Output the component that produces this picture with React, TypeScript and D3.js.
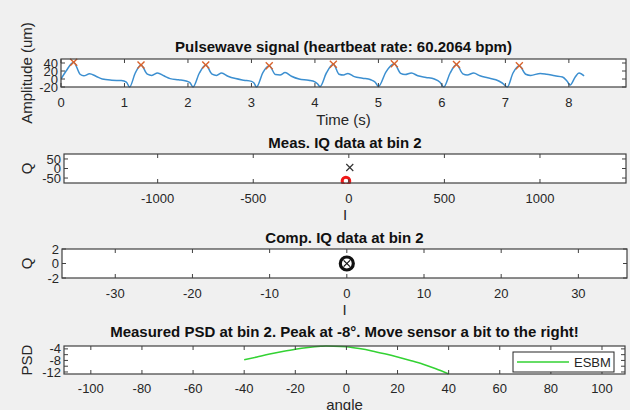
import React from "react";
import * as d3 from "d3";

// ---------- Data ----------
const pulseTime = [
  0, 0.08, 0.2, 0.3, 0.36, 0.45, 0.55, 0.65, 0.8, 0.95, 1.03, 1.08,
  1.17, 1.26, 1.36, 1.43, 1.52, 1.62, 1.72, 1.85, 1.97, 2.03, 2.08,
  2.18, 2.28, 2.38, 2.45, 2.53, 2.63, 2.75, 2.88, 3.0, 3.04, 3.08,
  3.18, 3.28, 3.38, 3.45, 3.53, 3.63, 3.75, 3.9, 4.0, 4.04, 4.08,
  4.18, 4.29, 4.38, 4.45, 4.52, 4.62, 4.75, 4.88, 4.95, 5.0,
  5.12, 5.25, 5.35, 5.42, 5.52, 5.62, 5.75, 5.88, 5.97, 6.03,
  6.13, 6.23, 6.33, 6.4, 6.5, 6.6, 6.72, 6.85, 6.95, 7.03,
  7.12, 7.22, 7.32, 7.4, 7.55, 7.65, 7.78, 7.9, 7.97, 8.02, 8.1, 8.16, 8.24,
];
const pulseAmp = [
  0, 20, 42, 12, 8, 13, 7, 0, -3, -4, -8, -20,
  15, 35, 12, 9, 15, 8, 1, -2, -5, -9, -20,
  15, 35, 12, 9, 15, 7, 1, -3, -6, -10, -20,
  16, 33, 11, 10, 16, 7, 0, -3, -7, -12, -19,
  15, 37, 12, 10, 14, 6, 2, -2, -8, -19,
  18, 38, 14, 11, 15, 8, 4, 0, -8, -20,
  15, 36, 13, 10, 15, 8, 3, -2, -10, -20,
  15, 33, 12, 9, 14, 12, 8, 5, -5, -15, 5, 15, 8,
];
const peakTime = [0.2, 1.26, 2.28, 3.28, 4.29, 5.25, 6.23, 7.22];
const peakAmp = [42, 35, 35, 33, 37, 38, 36, 33];

const measI = [5];
const measQ = [5];
const measRefI = [-15];
const measRefQ = [-66];

const compI = [0];
const compQ = [0];

const psdAngle = [-40, -35, -30, -25, -20, -15, -10, -8, -5, 0, 5, 10, 15, 20, 25, 30, 35, 40];
const psdValue = [-7.8, -6.8, -5.8, -4.9, -4.1, -3.5, -3.1, -3.0, -3.05, -3.3, -3.9, -4.7, -5.7, -6.8, -8.0, -9.3, -10.9, -12.7];

const pulseXTicks = [0, 1, 2, 3, 4, 5, 6, 7, 8];
const pulseYTicks = [-20, 0, 20, 40];
const measXTicks = [-1000, -500, 0, 500, 1000];
const measYTicks = [-50, 0, 50];
const compXTicks = [-30, -20, -10, 0, 10, 20, 30];
const compYTicks = [-2, 0, 2];
const psdXTicks = [-100, -80, -60, -40, -20, 0, 20, 40, 60, 80, 100];
const psdYTicks = [-12, -10, -8, -6, -4];
const psdYLabels = [-12, -8, -4];

const FONT = "'Liberation Sans', Arial, Helvetica, sans-serif";
const AX = "#404040";
const TXT = "#262626";

type AxesProps = {
  x: d3.ScaleLinear<number, number>;
  y: d3.ScaleLinear<number, number>;
  xTicks: number[];
  yTicks: number[];
  yLabels?: number[];
  title: string;
  titleY: number;
  xLabel?: string;
  xLabelY?: number;
  yLabel: string;
  yLabelX: number;
  tickLabelY: number;
  children?: React.ReactNode;
};

function Axes(p: AxesProps) {
  const [x0, x1] = p.x.range();
  const [yb, yt] = p.y.range();
  const tl = 4;
  const cx = (x0 + x1) / 2;
  const cy = (yb + yt) / 2;
  const labels = p.yLabels ?? p.yTicks;
  const id = "clip" + Math.round(x0) + "_" + Math.round(yt);
  return (
    <g>
      <rect x={x0} y={yt} width={x1 - x0} height={yb - yt} fill="#ffffff" />
      <defs>
        <clipPath id={id}>
          <rect x={x0} y={yt - 1} width={x1 - x0} height={yb - yt + 2} />
        </clipPath>
      </defs>
      <g clipPath={`url(#${id})`}>{p.children}</g>
      {p.xTicks.map((t) => (
        <g key={"xt" + t}>
          <line x1={p.x(t)} x2={p.x(t)} y1={yb} y2={yb - tl} stroke={AX} strokeWidth={1} />
          <line x1={p.x(t)} x2={p.x(t)} y1={yt} y2={yt + tl} stroke={AX} strokeWidth={1} />
          <text x={p.x(t)} y={p.tickLabelY} textAnchor="middle" fontSize={13} fill={TXT} fontFamily={FONT}>
            {t}
          </text>
        </g>
      ))}
      {p.yTicks.map((t) => (
        <g key={"yt" + t}>
          <line x1={x0} x2={x0 + tl} y1={p.y(t)} y2={p.y(t)} stroke={AX} strokeWidth={1} />
          <line x1={x1} x2={x1 - tl} y1={p.y(t)} y2={p.y(t)} stroke={AX} strokeWidth={1} />
        </g>
      ))}
      {labels.map((t) => (
        <text key={"yl" + t} x={x0 - 3} y={p.y(t)} dy="0.35em" textAnchor="end" fontSize={13} fill={TXT} fontFamily={FONT}>
          {t}
        </text>
      ))}
      <rect x={x0} y={yt} width={x1 - x0} height={yb - yt} fill="none" stroke={AX} strokeWidth={1.2} />
      <text x={cx} y={p.titleY} textAnchor="middle" fontSize={15} fontWeight="bold" fill="#111" fontFamily={FONT}>
        {p.title}
      </text>
      {p.xLabel && (
        <text x={cx} y={p.xLabelY} textAnchor="middle" fontSize={15} fill={TXT} fontFamily={FONT}>
          {p.xLabel}
        </text>
      )}
      <text
        transform={`translate(${p.yLabelX},${cy}) rotate(-90)`}
        textAnchor="middle"
        fontSize={15}
        fill={TXT}
        fontFamily={FONT}
      >
        {p.yLabel}
      </text>
    </g>
  );
}

function XMark({ cx, cy, r, color, w }: { cx: number; cy: number; r: number; color: string; w: number }) {
  return (
    <g stroke={color} strokeWidth={w}>
      <line x1={cx - r} y1={cy - r} x2={cx + r} y2={cy + r} />
      <line x1={cx - r} y1={cy + r} x2={cx + r} y2={cy - r} />
    </g>
  );
}

export default function App() {
  // Panel 1
  const x1 = d3.scaleLinear().domain([0, 8.9]).range([61, 626]);
  const y1 = d3.scaleLinear().domain([-20, 50]).range([87, 59]);
  const pulseLine = d3
    .line<number>()
    .x((_, i) => x1(pulseTime[i]))
    .y((d) => y1(d))
    .curve(d3.curveMonotoneX);

  // Panel 2
  const x2 = d3.scaleLinear().domain([-1490, 1450]).range([64, 626]);
  const y2 = d3.scaleLinear().domain([-76, 76]).range([183, 154]);

  // Panel 3
  const x3 = d3.scaleLinear().domain([-36.9, 36.3]).range([62, 627]);
  const y3 = d3.scaleLinear().domain([-2, 2]).range([278, 249]);

  // Panel 4
  const x4 = d3.scaleLinear().domain([-110.5, 109]).range([64, 625]);
  const y4 = d3.scaleLinear().domain([-12.7, -3]).range([374, 346]);
  const psdLine = d3
    .line<number>()
    .x((_, i) => x4(psdAngle[i]))
    .y((d) => y4(d))
    .curve(d3.curveMonotoneX);

  return (
    <svg
      width={630}
      height={410}
      style={{ position: "absolute", left: 0, top: 0, display: "block" }}
    >
      <rect width={630} height={410} fill="#f0f0f0" />

      <Axes
        x={x1}
        y={y1}
        xTicks={pulseXTicks}
        yTicks={pulseYTicks}
        title="Pulsewave signal (heartbeat rate: 60.2064 bpm)"
        titleY={52}
        xLabel="Time (s)"
        xLabelY={125}
        yLabel="Amplitude (um)"
        yLabelX={32}
        tickLabelY={107}
      >
        <path d={pulseLine(pulseAmp) ?? ""} fill="none" stroke="#3c8fd0" strokeWidth={1.5} />
        {peakTime.map((t, i) => (
          <XMark key={i} cx={x1(t)} cy={y1(peakAmp[i])} r={3.5} color="#d9622b" w={1.4} />
        ))}
      </Axes>

      <Axes
        x={x2}
        y={y2}
        xTicks={measXTicks}
        yTicks={measYTicks}
        title="Meas. IQ data at bin 2"
        titleY={148}
        xLabel="I"
        xLabelY={220}
        yLabel="Q"
        yLabelX={32}
        tickLabelY={203}
      >
        {measRefI.map((v, i) => (
          <circle key={"r" + i} cx={x2(v)} cy={y2(measRefQ[i])} r={3.8} fill="none" stroke="#f01818" strokeWidth={3} />
        ))}
      </Axes>
      {measI.map((v, i) => (
        <XMark key={"m" + i} cx={x2(v)} cy={y2(measQ[i])} r={3.5} color="#333" w={1.2} />
      ))}

      <Axes
        x={x3}
        y={y3}
        xTicks={compXTicks}
        yTicks={compYTicks}
        title="Comp. IQ data at bin 2"
        titleY={243}
        xLabel="I"
        xLabelY={315}
        yLabel="Q"
        yLabelX={32}
        tickLabelY={298}
      >
        {compI.map((v, i) => (
          <g key={"c" + i}>
            <circle cx={x3(v)} cy={y3(compQ[i])} r={6.5} fill="none" stroke="#111" strokeWidth={3.2} />
            <XMark cx={x3(v)} cy={y3(compQ[i])} r={3.2} color="#111" w={1.2} />
          </g>
        ))}
      </Axes>

      <Axes
        x={x4}
        y={y4}
        xTicks={psdXTicks}
        yTicks={psdYTicks}
        yLabels={psdYLabels}
        title="Measured PSD at bin 2. Peak at -8°. Move sensor a bit to the right!"
        titleY={337}
        xLabel="angle"
        xLabelY={410}
        yLabel="PSD"
        yLabelX={32}
        tickLabelY={393}
      >
        <path d={psdLine(psdValue) ?? ""} fill="none" stroke="#33d233" strokeWidth={1.5} />
      </Axes>

      {/* Legend */}
      <g>
        <rect x={513} y={352} width={101} height={20} fill="#ffffff" stroke="#262626" strokeWidth={1} />
        <line x1={517} x2={569} y1={362} y2={362} stroke="#33d233" strokeWidth={1.5} />
        <text x={574} y={362} dy="0.35em" fontSize={13} fill={TXT} fontFamily={FONT}>
          ESBM
        </text>
      </g>
    </svg>
  );
}
